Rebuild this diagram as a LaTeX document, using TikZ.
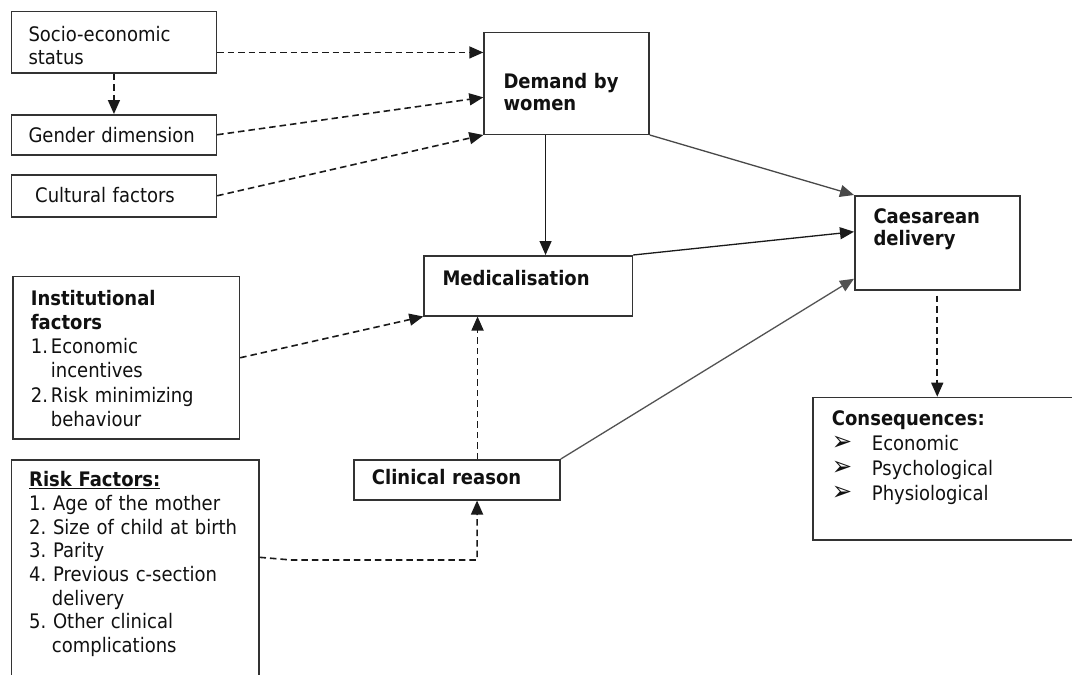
\documentclass[tikz,border=0pt]{standalone}
\usepackage{fontspec}
\setmainfont{DejaVu Sans}[FakeStretch=0.9]
\usetikzlibrary{arrows.meta}

\definecolor{boxline}{HTML}{333333}
\definecolor{ink}{HTML}{111111}
\definecolor{wire}{HTML}{1a1a1a}

\tikzset{
  box/.style={draw=boxline, line width=1.5pt, inner sep=0pt, anchor=north west, fill=white},
  lbl/.style={anchor=base west, inner sep=0pt, align=left, text=ink, text width=#1},
  lbl/.default=220pt,
  tip/.style={-{Triangle[length=14pt,width=12pt]}},
  link/.style={tip, draw=wire, line width=1.3pt},
  dlink/.style={link, line width=1.6pt, dash pattern=on 6.5pt off 4pt},
}

\newcommand{\txt}[1]{\fontsize{20}{#1}\selectfont\frenchspacing}
\newcommand{\bul}{\makebox[40pt][l]{\fontsize{27}{25}\selectfont ➢}}

\begin{document}
\begin{tikzpicture}[x=1pt,y=-1pt]
  \fill[white] (0,0) rectangle (1072,675);
  \clip (0,0) rectangle (1072,675);

  % boxes
  \node[box, minimum width=205,   minimum height=61.6]  (soc)  at (10.7,10.7)  {};
  \node[box, minimum width=205,   minimum height=40]    (gen)  at (10.7,114)   {};
  \node[box, minimum width=205,   minimum height=42]    (cul)  at (10.7,174)   {};
  \node[box, minimum width=165,   minimum height=101.8] (dem)  at (483.3,31.7) {};
  \node[box, minimum width=208.4, minimum height=60]    (med)  at (423.3,255)  {};
  \node[box, minimum width=165,   minimum height=94]    (ces)  at (854,195)    {};
  \node[box, minimum width=226.4, minimum height=162.6] (ins)  at (12.3,275.7) {};
  \node[box, minimum width=206,   minimum height=40]    (clin) at (353.3,459)  {};
  \node[box, minimum width=247.3, minimum height=240]   (risk) at (10.7,459.3) {};
  \node[box, minimum width=280,   minimum height=142.6] (con)  at (812.3,396.7){};

  % labels
  \node[lbl, font=\txt{22.3}] (socT) at (28.3,41.7) {Socio-economic\\status};
  \node[lbl, font=\txt{24}] (genT) at (28.3,142.7) {Gender dimension};
  \node[lbl, font=\txt{24}] (culT) at (35,202.7) {Cultural factors};
  \node[lbl, font=\txt{22.4}\bfseries] (demT) at (503.3,88.3) {Demand by\\women};
  \node[lbl, font=\txt{24}\bfseries] (medT) at (442.3,285) {Medicalisation};
  \node[lbl, font=\txt{21.7}\bfseries] (cesT) at (873.3,223.3) {Caesarean\\delivery};
  \node[lbl, font=\txt{24.3}] (insT) at (30.7,305)
    {\textbf{Institutional}\\\textbf{factors}\\
     \makebox[20pt][l]{1.}Economic\\\hspace*{20pt}incentives\\
     \makebox[20pt][l]{2.}Risk minimizing\\\hspace*{20pt}behaviour};
  \node[lbl, font=\txt{24}\bfseries] (clinT) at (371.7,484.3) {Clinical reason};
  \node[lbl, font=\txt{23.7}] (riskT) at (29,486.7)
    {\textbf{\underline{Risk Factors:}}\\
     1. Age of the mother\\
     2. Size of child at birth\\
     3. Parity\\
     4. Previous c-section\\\hspace*{22.7pt}delivery\\
     5. Other clinical\\\hspace*{22.7pt}complications};
  \node[lbl, font=\txt{25}] (conT) at (831.7,425)
    {\textbf{Consequences:}\\
     \bul Economic\\
     \bul Psychological\\
     \bul Physiological};

  % influences on demand
  \draw[dlink] ([yshift=-10.2pt]soc.east) -- ([yshift=-10.2pt]soc.east -| dem.west);
  \draw[dlink] (gen.east) -- ([yshift=-14pt]dem.west);
  \draw[dlink] (cul.east) -- (dem.south west);
  \draw[dlink] (soc.south) -- (gen.north);

  % main pathway
  \draw[link] ([xshift=-21pt]dem.south) -- ([xshift=-21pt]dem.south |- med.north);
  \draw[link, draw=wire!80] (dem.south east) -- (ces.north west);
  \draw[link] (med.north east) -- ([yshift=11pt]ces.west);
  \draw[link, draw=wire!75] (clin.north east) -- ([yshift=-36pt]ces.west);

  % institutional and clinical inputs
  \draw[dlink] (ins.east) -- (med.south west);
  \draw[dlink] ([xshift=20.5pt]clin.north) -- ([xshift=20.5pt]clin.north |- med.south);
  \draw[dlink] ([yshift=-98pt]risk.north east) -- ++(32,2.7)
    -| ([xshift=20pt]clin.south);

  % outcomes
  \draw[dlink, shorten <=5pt] (ces.south) -- (ces.south |- con.north);
\end{tikzpicture}
\end{document}
